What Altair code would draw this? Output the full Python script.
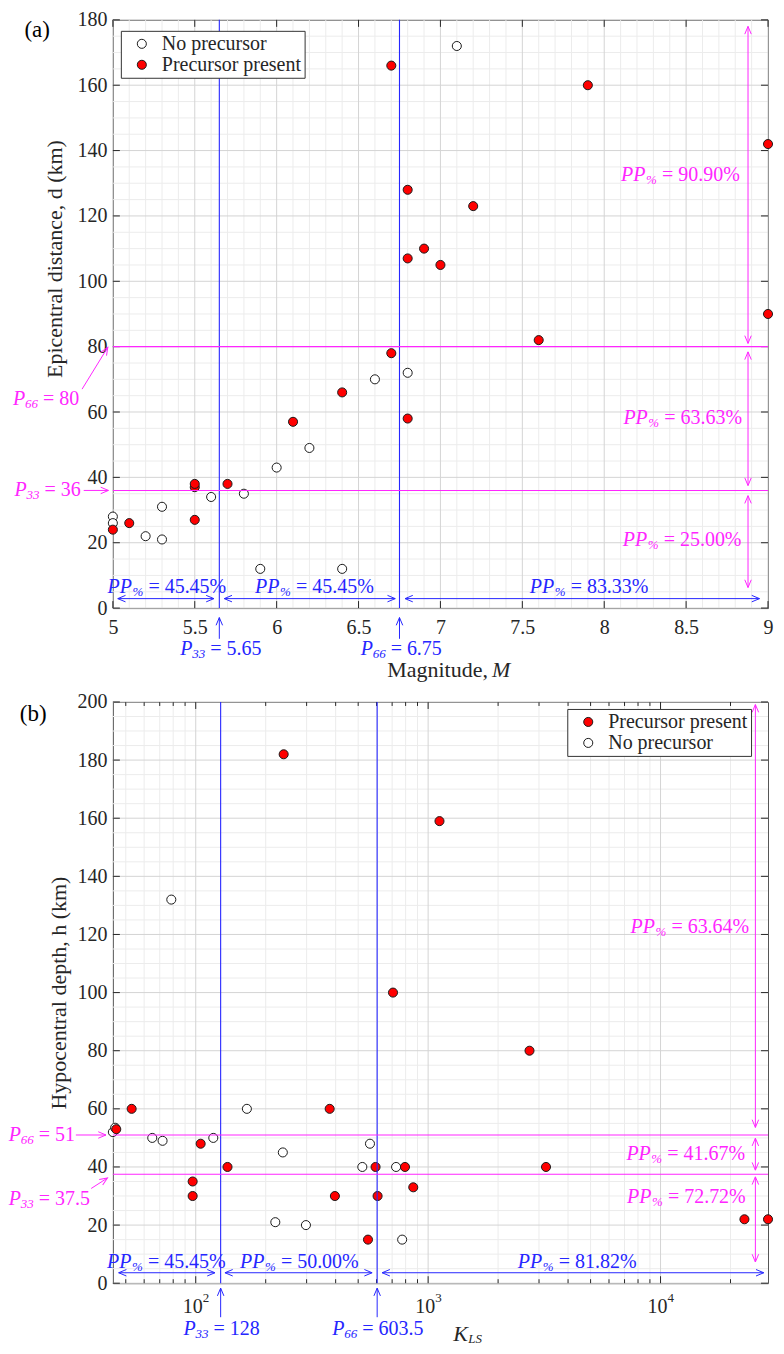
import math
import altair as alt
import pandas as pd

FONT = "Liberation Serif, serif"
INK = "#262626"
BLUE = "#2626ff"
MAG = "#ff26ff"
GRID_MAJ = "#d4d4d4"
GRID_MIN = "#ececec"
FS = 20      # main text size
FSS = 13     # subscript size
FST = 22     # axis title size

# ---------------- Panel (a) data: magnitude vs epicentral distance ----------------
a_open_M = [5.0, 5.0, 5.2, 5.3, 5.3, 5.6, 5.8, 5.9, 6.0, 6.2, 6.4, 6.6, 6.8, 7.1]
a_open_d = [28, 26, 22, 31, 21, 34, 35, 12, 43, 49, 12, 70, 72, 172]
a_pre_M = [5.0, 5.1, 5.5, 5.5, 5.5, 5.7, 6.1, 6.4, 6.7, 6.7, 6.8, 6.8, 6.8, 6.9, 7.0, 7.2, 7.6, 7.9, 9.0, 9.0]
a_pre_d = [24, 26, 37, 38, 27, 38, 57, 66, 78, 166, 58, 128, 107, 110, 105, 123, 82, 160, 142, 90]
a_P_M = [5.65, 6.75]
a_P_d = [36, 80]
a_pp_M = ["45.45%", "45.45%", "83.33%"]
a_pp_d = ["25.00%", "63.63%", "90.90%"]

# ---------------- Panel (b) data: K_LS vs hypocentral depth ----------------
b_open_K = [44, 45, 65, 72, 78.5, 119, 166, 220, 237, 298, 521, 562, 728, 773]
b_open_h = [52, 53.5, 50, 49, 132, 50, 60, 21, 45, 20, 40, 48, 40, 15]
b_pre_K = [45.5, 53, 97, 97, 105, 137, 239, 377, 397, 551, 594, 606, 706, 795, 863, 1119, 2730, 3215, 22960, 29000]
b_pre_h = [53, 60, 35, 30, 48, 40, 182, 60, 30, 15, 40, 30, 100, 40, 33, 159, 80, 40, 22, 22]
b_P_K = [128, 603.5]
b_P_h = [37.5, 51]
b_pp_K = ["45.45%", "50.00%", "81.82%"]
b_pp_h = ["72.72%", "41.67%", "63.64%"]

NO = "No precursor"
YES = "Precursor present"

WA, HA = 656, 589
WB, HB = 656, 582
A_X = [5, 9]
A_Y = [0, 180]
B_X = [44, 29000]
B_Y = [0, 200]

a_x_major = [5 + 0.5 * i for i in range(9)]
a_x_minor = [round(5 + 0.1 * i, 2) for i in range(41) if i % 5 != 0]
a_y_major = [20 * i for i in range(10)]
a_y_minor = [5 * i for i in range(37) if i % 4 != 0]
b_x_major = [100, 1000, 10000]
b_x_minor = [k * 10 ** e for e in range(1, 5) for k in range(2, 10)
             if B_X[0] <= k * 10 ** e <= B_X[1]]
b_y_major = [20 * i for i in range(11)]
b_y_minor = [5 * i for i in range(41) if i % 4 != 0]


def y_axis(values, title, tx, ty):
    return alt.Axis(values=values, grid=False, ticks=False, domain=False, labelFont=FONT,
                    labelFontSize=FS, labelColor=INK, labelPadding=6, labelFlush=False,
                    labelOverlap=False, title=title, titleFont=FONT, titleFontSize=FST,
                    titleFontWeight="normal", titleColor=INK, titleAngle=270,
                    titleAlign="center", titleBaseline="middle", titleX=tx, titleY=ty)


class Panel:
    def __init__(self, xs, ys, axx, axy, fx, fy, W, H):
        self.xs, self.ys, self.axx, self.axy = xs, ys, axx, axy
        self.fx, self.fy, self.W, self.H = fx, fy, W, H

    def X(self, f="x"):
        return alt.X(f + ":Q", scale=self.xs, axis=self.axx)

    def Y(self, f="y"):
        return alt.Y(f + ":Q", scale=self.ys, axis=self.axy)

    def xy(self):
        return dict(x=self.X(), y=self.Y())


sx_a = WA / (A_X[1] - A_X[0])
sy_a = HA / (A_Y[1] - A_Y[0])
sx_b = WB / math.log10(B_X[1] / B_X[0])
sy_b = HB / (B_Y[1] - B_Y[0])

PA = Panel(
    alt.Scale(domain=A_X, nice=False, zero=False),
    alt.Scale(domain=A_Y, nice=False, zero=False),
    alt.Axis(values=a_x_major, format="~g", grid=False, ticks=False, domain=False, labelFont=FONT,
             labelFontSize=FS, labelColor=INK, labelPadding=9, labelFlush=False, labelOverlap=False,
             title=None),
    y_axis(a_y_major, "Epicentral distance, d (km)", -58, 239),
    lambda v: v * sx_a, lambda v: v * sy_a, WA, HA)

PB = Panel(
    alt.Scale(type="log", domain=B_X, nice=False),
    alt.Scale(domain=B_Y, nice=False, zero=False),
    alt.Axis(values=b_x_major, labels=False, grid=False, ticks=False, domain=False, title=None),
    y_axis(b_y_major, "Hypocentral depth, h (km)", -54, HB / 2),
    lambda v: math.log10(v) * sx_b, lambda v: v * sy_b, WB, HB)

HEAD = "M -1 -0.42 L 0 0 L -1 0.42"


def vrules(P, vals, color, w=1.0):
    return alt.Chart(pd.DataFrame({"x": vals})).mark_rule(color=color, strokeWidth=w).encode(x=P.X())


def hrules(P, vals, color, w=1.0):
    return alt.Chart(pd.DataFrame({"y": vals})).mark_rule(color=color, strokeWidth=w).encode(y=P.Y())


def xticks(P, vals, length):
    base = alt.Chart(pd.DataFrame({"x": vals})).mark_rule(color=INK, strokeWidth=1)
    return [base.encode(x=P.X(), y=alt.value(P.H), y2=alt.value(P.H - length)),
            base.encode(x=P.X(), y=alt.value(0), y2=alt.value(length))]


def yticks(P, vals, length):
    base = alt.Chart(pd.DataFrame({"y": vals})).mark_rule(color=INK, strokeWidth=1)
    return [base.encode(y=P.Y(), x=alt.value(0), x2=alt.value(length)),
            base.encode(y=P.Y(), x=alt.value(P.W), x2=alt.value(P.W - length))]


def arrows(P, segs, double):
    lines = pd.DataFrame([{"x": s[0], "y": s[1], "x2": s[2], "y2": s[3], "color": s[4]} for s in segs])
    heads = []
    for x1, y1, x2, y2, c in segs:
        dxp = P.fx(x2) - P.fx(x1)
        dyp = -(P.fy(y2) - P.fy(y1))
        ang = math.degrees(math.atan2(dyp, dxp)) % 360
        heads.append({"x": x2, "y": y2, "ang": ang, "color": c})
        if double:
            heads.append({"x": x1, "y": y1, "ang": (ang + 180) % 360, "color": c})
    heads = pd.DataFrame(heads)
    ln = alt.Chart(lines).mark_rule(strokeWidth=1).encode(
        x=P.X(), y=P.Y(), x2="x2:Q", y2="y2:Q", color=alt.Color("color:N", scale=None))
    hd = alt.Chart(heads).mark_point(shape=HEAD, filled=False, size=240, strokeWidth=1, opacity=1).encode(
        x=P.X(), y=P.Y(), angle=alt.Angle("ang:Q", scale=None), color=alt.Color("color:N", scale=None))
    return [ln, hd]


def rich(P, rows, base_w, sub_w):
    # rows: (x, y, base, sub, rest, color)
    df = pd.DataFrame([{"x": r[0], "y": r[1], "base": r[2], "sub": r[3], "rest": r[4], "color": r[5]} for r in rows])
    c = alt.Chart(df)
    e = dict(x=P.X(), y=P.Y(), color=alt.Color("color:N", scale=None))
    l1 = c.mark_text(font=FONT, fontSize=FS, fontStyle="italic", align="left", baseline="middle").encode(
        text="base:N", **e)
    l2 = c.mark_text(font=FONT, fontSize=FSS, fontStyle="italic", align="left", baseline="middle",
                     dx=base_w, dy=5).encode(text="sub:N", **e)
    l3 = c.mark_text(font=FONT, fontSize=FS, align="left", baseline="middle",
                     dx=base_w + sub_w + 5).encode(text="rest:N", **e)
    return [l1, l2, l3]


def points(P, open_x, open_y, pre_x, pre_y, legend_order, lx, ly):
    df = pd.DataFrame({
        "x": list(open_x) + list(pre_x),
        "y": list(open_y) + list(pre_y),
        "status": [NO] * len(open_x) + [YES] * len(pre_x),
    })
    rng = ["white" if s == NO else "#ff0000" for s in legend_order]
    return alt.Chart(df).mark_circle(size=82, opacity=1, stroke="#1a1a1a", strokeWidth=1).encode(
        x=P.X(), y=P.Y(),
        fill=alt.Fill("status:N", scale=alt.Scale(domain=legend_order, range=rng),
                      legend=alt.Legend(title=None, orient="none", legendX=lx, legendY=ly,
                                        strokeColor="#333333", fillColor="white", padding=3,
                                        cornerRadius=0, symbolType="circle", symbolSize=82,
                                        symbolStrokeColor="#1a1a1a", symbolStrokeWidth=1,
                                        labelFont=FONT, labelFontSize=FS, labelColor=INK,
                                        rowPadding=1, symbolOffset=8, labelOffset=10)),
    )


def text1(P, x, y, txt, size=FS, italic=False, align="left", dx=0, dy=0, color=INK):
    return alt.Chart(pd.DataFrame({"x": [x], "y": [y]})).mark_text(
        font=FONT, fontSize=size, fontStyle="italic" if italic else "normal", align=align,
        baseline="middle", color=color, dx=dx, dy=dy, text=txt).encode(**P.xy())


# ======================= Panel (a) =======================
a_layers = [vrules(PA, a_x_minor, GRID_MIN), hrules(PA, a_y_minor, GRID_MIN),
            vrules(PA, a_x_major, GRID_MAJ), hrules(PA, a_y_major, GRID_MAJ)]
a_layers += xticks(PA, a_x_major, 7) + yticks(PA, a_y_major, 7)
a_layers.append(points(PA, a_open_M, a_open_d, a_pre_M, a_pre_d, [NO, YES], 8, 11))
a_layers += [vrules(PA, a_P_M, BLUE, 1.1), hrules(PA, a_P_d, MAG, 1.1)]
a_layers += arrows(PA, [
    (5.03, 2.9, 5.617, 2.9, BLUE), (5.68, 2.9, 6.724, 2.9, BLUE), (6.784, 2.9, 8.948, 2.9, BLUE),
    (8.878, 81, 8.878, 178, MAG), (8.878, 78.4, 8.878, 37.5, MAG), (8.878, 34.4, 8.878, 6.3, MAG),
], True)
a_layers += arrows(PA, [
    (a_P_M[0], -9.4, a_P_M[0], -2.9, BLUE), (a_P_M[1], -9.4, a_P_M[1], -2.9, BLUE),
    (4.822, a_P_d[0], 4.973, a_P_d[0], MAG), (4.812, 67, 4.969, 79.8, MAG),
], False)
a_layers += rich(PA, [
    (4.967, 6.6, "PP", "%", "= " + a_pp_M[0], BLUE),
    (5.868, 6.6, "PP", "%", "= " + a_pp_M[1], BLUE),
    (7.545, 6.6, "PP", "%", "= " + a_pp_M[2], BLUE),
    (8.113, 20.8, "PP", "%", "= " + a_pp_d[0], MAG),
    (8.117, 58.3, "PP", "%", "= " + a_pp_d[1], MAG),
    (8.103, 132.4, "PP", "%", "= " + a_pp_d[2], MAG),
], 25, 11)
a_layers += rich(PA, [
    (5.412, -12.5, "P", "33", "= " + format(a_P_M[0], "g"), BLUE),
    (6.513, -12.5, "P", "66", "= " + format(a_P_M[1], "g"), BLUE),
    (4.399, 36, "P", "33", "= " + format(a_P_d[0], "g"), MAG),
    (4.39, 64, "P", "66", "= " + format(a_P_d[1], "g"), MAG),
], 12, 13)
a_layers += [
    text1(PA, 7.29, -19, "Magnitude,", size=FST, align="right"),
    text1(PA, 7.29, -19, "M", size=FST, italic=True, dx=4),
    text1(PA, 4.46, 176.8, "(a)", size=23, color="black"),
]
panel_a = alt.layer(*a_layers).properties(width=WA, height=HA)

# ======================= Panel (b) =======================
b_layers = [vrules(PB, b_x_minor, GRID_MIN), hrules(PB, b_y_minor, GRID_MIN),
            vrules(PB, b_x_major, GRID_MAJ), hrules(PB, b_y_major, GRID_MAJ)]
b_layers += xticks(PB, b_x_major, 7) + xticks(PB, b_x_minor, 4) + yticks(PB, b_y_major, 7)
b_layers.append(points(PB, b_open_K, b_open_h, b_pre_K, b_pre_h, [YES, NO], 455, 7))
b_layers += [vrules(PB, b_P_K, BLUE, 1.1), hrules(PB, b_P_h, MAG, 1.1)]
b_layers += arrows(PB, [
    (46.6, 3.6, 121, 3.6, BLUE), (133.6, 3.6, 574, 3.6, BLUE), (634, 3.6, 27800, 3.6, BLUE),
    (25590, 53.6, 25590, 199.1, MAG), (25590, 49.9, 25590, 38.9, MAG), (25590, 36.6, 25590, 7.3, MAG),
], True)
b_layers += arrows(PB, [
    (b_P_K[0], -11.7, b_P_K[0], -1.7, BLUE), (b_P_K[1], -11.7, b_P_K[1], -1.7, BLUE),
    (30.5, b_P_h[1], 41.1, b_P_h[1], MAG), (35.5, 32.6, 41.7, 36.2, MAG),
], False)
b_layers += rich(PB, [
    (41.5, 7.4, "PP", "%", "= " + b_pp_K[0], BLUE),
    (155, 7.4, "PP", "%", "= " + b_pp_K[1], BLUE),
    (2432, 7.4, "PP", "%", "= " + b_pp_K[2], BLUE),
    (7170, 29.8, "PP", "%", "= " + b_pp_h[0], MAG),
    (7130, 44.5, "PP", "%", "= " + b_pp_h[1], MAG),
    (7422, 122.4, "PP", "%", "= " + b_pp_h[2], MAG),
], 25, 11)
b_layers += rich(PB, [
    (88.6, -15.7, "P", "33", "= " + format(b_P_K[0], "g"), BLUE),
    (387, -15.7, "P", "66", "= " + format(b_P_K[1], "g"), BLUE),
    (15.7, 29, "P", "33", "= " + format(b_P_h[0], "g"), MAG),
    (15.7, 51.1, "P", "66", "= " + format(b_P_h[1], "g"), MAG),
], 12, 13)
dec = pd.DataFrame({"x": b_x_major, "y": [-8.3] * 3, "exp": ["2", "3", "4"]})
b_layers += [
    alt.Chart(dec).mark_text(font=FONT, fontSize=FS, align="center", baseline="middle", color=INK,
                             dx=-3, text="10").encode(**PB.xy()),
    alt.Chart(dec).mark_text(font=FONT, fontSize=FSS, align="left", baseline="middle", color=INK,
                             dx=7, dy=-9).encode(text="exp:N", **PB.xy()),
    text1(PB, 1284, -17.5, "K", size=FST, italic=True),
    text1(PB, 1284, -17.5, "LS", size=FSS, italic=True, dx=15, dy=5),
    text1(PB, 17.5, 195.7, "(b)", size=23, color="black"),
]
panel_b = alt.layer(*b_layers).properties(width=WB, height=HB)

chart = (
    alt.vconcat(panel_a, panel_b, spacing=94, bounds="flush")
    .resolve_scale(x="independent", y="independent", fill="independent")
    .resolve_legend(fill="independent")
    .configure_view(stroke="#555555", strokeWidth=1)
    .properties(padding={"left": 0, "top": 0, "right": 0, "bottom": 0})
)

chart.save("out.html", embed_options={"renderer": "svg", "actions": False})
